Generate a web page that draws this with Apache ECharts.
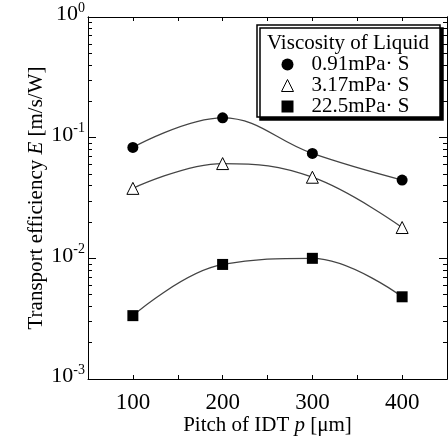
<!DOCTYPE html>
<html>
<head>
<meta charset="utf-8">
<script src="https://cdn.jsdelivr.net/npm/echarts@6/dist/echarts.min.js"></script>
<style>
  html, body { margin: 0; padding: 0; background: #fff; }
  #chart { width: 448px; height: 441px; }
</style>
</head>
<body>
<div id="chart"></div>
<script>
var pitch = [100, 200, 300, 400];
var seriesNames = ['0.91mPa\u00b7 S', '3.17mPa\u00b7 S', '22.5mPa\u00b7 S'];
var e091 = [0.083, 0.146, 0.074, 0.0445];
var e317 = [0.038, 0.061, 0.047, 0.018];
var e225 = [0.00335, 0.0089, 0.0100, 0.0048];
var yTickValues = [0.001, 0.01, 0.1, 1];
var xLabelValues = [100, 200, 300, 400];

// minor log ticks 2..9 inside each decade
var yMinorTicks = [];
for (var d = 0; d < yTickValues.length - 1; d++) {
    for (var m = 2; m <= 9; m++) {
        yMinorTicks.push(+(yTickValues[d] * m).toPrecision(3));
    }
}

var serif = '"Liberation Serif", "DejaVu Serif", serif';

function pairs(ys) {
    return pitch.map(function (x, i) { return [x, ys[i]]; });
}

var myChart = echarts.init(document.getElementById('chart'));

var yBase = {
    type: 'log',
    min: 0.001,
    max: 1,
    logBase: 10,
    splitLine: { show: false },
    axisLine: { lineStyle: { color: '#000', width: 1 } }
};

myChart.setOption({
    animation: false,
    textStyle: { fontFamily: serif, color: '#000' },
    grid: { left: 88, top: 17, right: 1, bottom: 58 },
    xAxis: [
        {
            type: 'value',
            min: 50,
            max: 450,
            interval: 50,
            position: 'bottom',
            splitLine: { show: false },
            axisLine: { lineStyle: { color: '#000', width: 1 } },
            axisTick: { inside: true, length: 4, lineStyle: { color: '#000' } },
            axisLabel: {
                customValues: xLabelValues,
                fontSize: 23,
                fontFamily: serif,
                color: '#000',
                margin: 12
            },
            name: 'Pitch of IDT {i|p} [\u03bcm]',
            nameLocation: 'middle',
            nameGap: 36,
            nameMoveOverlap: false,
            nameTextStyle: {
                fontSize: 21,
                fontFamily: serif,
                color: '#000',
                rich: {
                    i: { fontSize: 21, fontFamily: serif, fontStyle: 'italic', color: '#000' }
                }
            }
        },
        {
            type: 'value',
            min: 50,
            max: 450,
            interval: 50,
            position: 'top',
            splitLine: { show: false },
            axisLine: { lineStyle: { color: '#000', width: 1 } },
            axisTick: { inside: true, length: 4, lineStyle: { color: '#000' } },
            axisLabel: { show: false }
        }
    ],
    yAxis: [
        Object.assign({}, yBase, {
            position: 'left',
            axisTick: { inside: true, length: 8, customValues: yTickValues, lineStyle: { color: '#000' } },
            axisLabel: {
                customValues: yTickValues,
                margin: 3,
                formatter: function (v) {
                    return '{b|10}{s|' + Math.round(Math.log10(v)) + '}';
                },
                rich: {
                    b: { fontSize: 22, fontFamily: serif, color: '#000', padding: [0, 0, 5, 0] },
                    s: { fontSize: 14, fontFamily: serif, color: '#000', padding: [0, 0, 18, 0] }
                }
            },
            name: 'Transport efficiency {i|E} [m/s/W]',
            nameLocation: 'middle',
            nameGap: 41,
            nameMoveOverlap: false,
            nameTextStyle: {
                fontSize: 21,
                fontFamily: serif,
                color: '#000',
                rich: {
                    i: { fontSize: 21, fontFamily: serif, fontStyle: 'italic', color: '#000' }
                }
            }
        }),
        Object.assign({}, yBase, {
            position: 'left',
            axisTick: { inside: true, length: 4, customValues: yMinorTicks, lineStyle: { color: '#000' } },
            axisLabel: { show: false }
        }),
        Object.assign({}, yBase, {
            position: 'right',
            axisTick: { inside: true, length: 8, customValues: yTickValues, lineStyle: { color: '#000' } },
            axisLabel: { show: false }
        }),
        Object.assign({}, yBase, {
            position: 'right',
            axisTick: { inside: true, length: 4, customValues: yMinorTicks, lineStyle: { color: '#000' } },
            axisLabel: { show: false }
        })
    ],
    legend: {
        orient: 'vertical',
        left: 276,
        top: 49,
        itemWidth: 12,
        itemHeight: 12,
        itemGap: 0,
        z: 10,
        textStyle: {
            fontSize: 21,
            fontFamily: serif,
            color: '#000',
            lineHeight: 19.5,
            padding: [0, 0, 0, 13]
        },
        data: [
            { name: seriesNames[0], icon: 'circle', itemStyle: { color: '#000' } },
            { name: seriesNames[1], icon: 'triangle', itemStyle: { color: '#fff', borderColor: '#000', borderWidth: 1 } },
            { name: seriesNames[2], icon: 'rect', itemStyle: { color: '#000' } }
        ]
    },
    graphic: [
        {
            type: 'rect',
            z: 5,
            shape: { x: 257, y: 25, width: 183, height: 92 },
            style: {
                fill: '#fff',
                stroke: '#000',
                lineWidth: 1.5,
                shadowColor: '#000',
                shadowOffsetX: 3,
                shadowOffsetY: 3,
                shadowBlur: 0
            }
        },
        {
            type: 'text',
            z: 6,
            x: 348,
            y: 43,
            style: {
                text: 'Viscosity of Liquid',
                font: '21px ' + serif,
                fill: '#000',
                textAlign: 'center',
                textVerticalAlign: 'middle'
            }
        }
    ],
    series: [
        {
            name: seriesNames[0],
            type: 'line',
            smooth: 0.4,
            data: pairs(e091),
            symbol: 'circle',
            symbolSize: 11,
            itemStyle: { color: '#000' },
            lineStyle: { color: '#444', width: 1.3 }
        },
        {
            name: seriesNames[1],
            type: 'line',
            smooth: 0.4,
            data: pairs(e317),
            symbol: 'triangle',
            symbolSize: 12,
            itemStyle: { color: '#fff', borderColor: '#000', borderWidth: 1 },
            lineStyle: { color: '#444', width: 1.3 }
        },
        {
            name: seriesNames[2],
            type: 'line',
            smooth: 0.4,
            data: pairs(e225),
            symbol: 'rect',
            symbolSize: 11,
            itemStyle: { color: '#000' },
            lineStyle: { color: '#444', width: 1.3 }
        }
    ]
});
</script>
</body>
</html>
